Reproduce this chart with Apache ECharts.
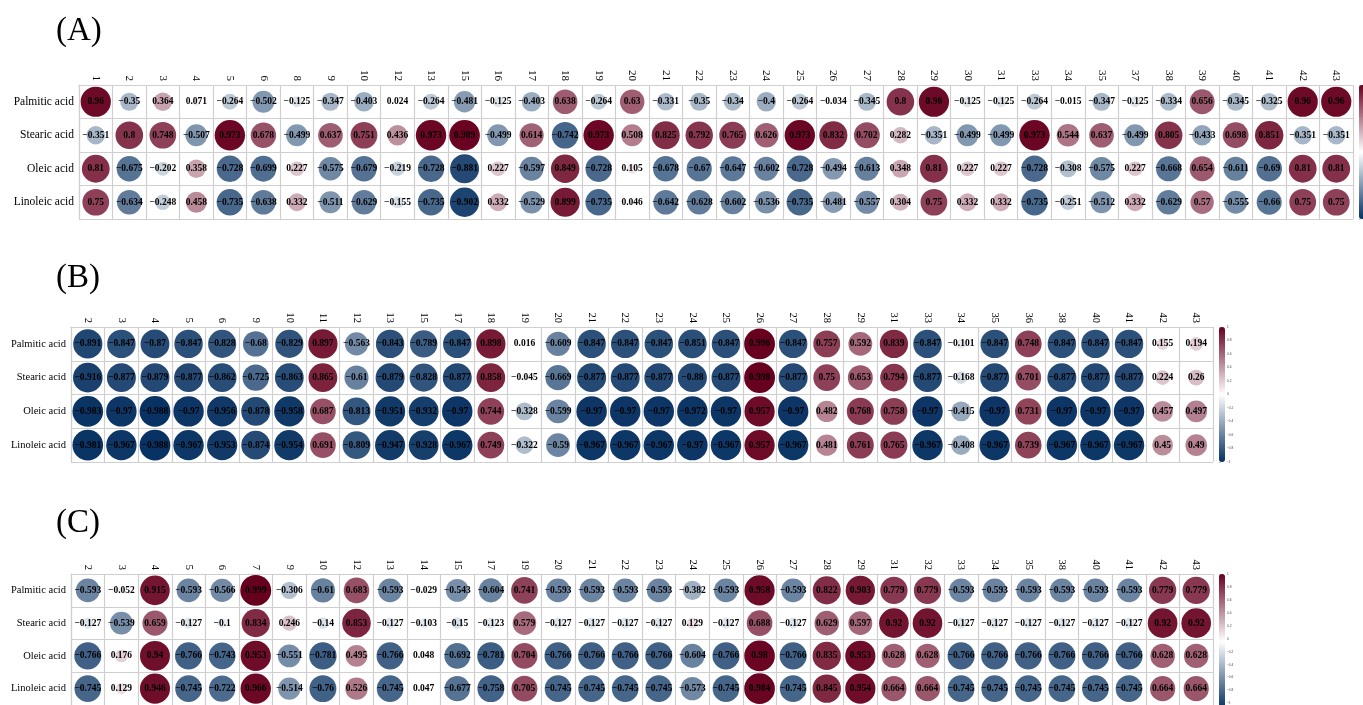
<!DOCTYPE html>
<html>
<head>
<meta charset="utf-8">
<script src="https://cdn.jsdelivr.net/npm/echarts@6/dist/echarts.min.js"></script>
<style>
  html, body { margin: 0; padding: 0; background: #fff; }
  #chart { width: 1363px; height: 705px; }
</style>
</head>
<body>
<div id="chart"></div>
<script>
// Fatty acids (rows) correlated against each numbered sample variable (columns)
const rowNames = ['Palmitic acid', 'Stearic acid', 'Oleic acid', 'Linoleic acid'];

// Panel (A)
const colsA = ['1','2','3','4','5','6','8','9','10','12','13','15','16','17','18','19','20','21','22','23','24','25','26','27','28','29','30','31','33','34','35','37','38','39','40','41','42','43'];
const palmiticA = [0.96,-0.35,0.364,0.071,-0.264,-0.502,-0.125,-0.347,-0.403,0.024,-0.264,-0.481,-0.125,-0.403,0.638,-0.264,0.63,-0.331,-0.35,-0.34,-0.4,-0.264,-0.034,-0.345,0.8,0.96,-0.125,-0.125,-0.264,-0.015,-0.347,-0.125,-0.334,0.656,-0.345,-0.325,0.96,0.96];
const stearicA = [-0.351,0.8,0.748,-0.507,0.973,0.678,-0.499,0.637,0.751,0.436,0.973,0.989,-0.499,0.614,-0.742,0.973,0.508,0.825,0.792,0.765,0.626,0.973,0.832,0.702,0.282,-0.351,-0.499,-0.499,0.973,0.544,0.637,-0.499,0.805,-0.433,0.698,0.851,-0.351,-0.351];
const oleicA = [0.81,-0.675,-0.202,0.358,-0.728,-0.699,0.227,-0.575,-0.679,-0.219,-0.728,-0.881,0.227,-0.597,0.849,-0.728,0.105,-0.678,-0.67,-0.647,-0.602,-0.728,-0.494,-0.613,0.348,0.81,0.227,0.227,-0.728,-0.308,-0.575,0.227,-0.668,0.654,-0.611,-0.69,0.81,0.81];
const linoleicA = [0.75,-0.634,-0.248,0.458,-0.735,-0.638,0.332,-0.511,-0.629,-0.155,-0.735,-0.902,0.332,-0.529,0.899,-0.735,0.046,-0.642,-0.628,-0.602,-0.536,-0.735,-0.481,-0.557,0.304,0.75,0.332,0.332,-0.735,-0.251,-0.512,0.332,-0.629,0.57,-0.555,-0.66,0.75,0.75];

// Panel (B)
const colsB = ['2','3','4','5','6','9','10','11','12','13','15','17','18','19','20','21','22','23','24','25','26','27','28','29','31','33','34','35','36','38','40','41','42','43'];
const palmiticB = [-0.891,-0.847,-0.87,-0.847,-0.828,-0.68,-0.829,0.897,-0.563,-0.843,-0.789,-0.847,0.898,0.016,-0.609,-0.847,-0.847,-0.847,-0.851,-0.847,0.996,-0.847,0.757,0.592,0.839,-0.847,-0.101,-0.847,0.748,-0.847,-0.847,-0.847,0.155,0.194];
const stearicB = [-0.916,-0.877,-0.879,-0.877,-0.862,-0.725,-0.863,0.865,-0.61,-0.879,-0.828,-0.877,0.858,-0.045,-0.669,-0.877,-0.877,-0.877,-0.88,-0.877,0.998,-0.877,0.75,0.653,0.794,-0.877,-0.168,-0.877,0.701,-0.877,-0.877,-0.877,0.224,0.26];
const oleicB = [-0.983,-0.97,-0.988,-0.97,-0.956,-0.878,-0.958,0.687,-0.813,-0.951,-0.932,-0.97,0.744,-0.328,-0.599,-0.97,-0.97,-0.97,-0.972,-0.97,0.957,-0.97,0.482,0.768,0.758,-0.97,-0.415,-0.97,0.731,-0.97,-0.97,-0.97,0.457,0.497];
const linoleicB = [-0.981,-0.967,-0.988,-0.967,-0.953,-0.874,-0.954,0.691,-0.809,-0.947,-0.928,-0.967,0.749,-0.322,-0.59,-0.967,-0.967,-0.967,-0.97,-0.967,0.957,-0.967,0.481,0.761,0.765,-0.967,-0.408,-0.967,0.739,-0.967,-0.967,-0.967,0.45,0.49];

// Panel (C)
const colsC = ['2','3','4','5','6','7','9','10','12','13','14','15','17','19','20','21','22','23','24','25','26','27','28','29','31','32','33','34','35','38','40','41','42','43'];
const palmiticC = [-0.593,-0.052,0.915,-0.593,-0.566,0.999,-0.306,-0.61,0.683,-0.593,-0.029,-0.543,-0.604,0.741,-0.593,-0.593,-0.593,-0.593,-0.382,-0.593,0.958,-0.593,0.822,0.903,0.779,0.779,-0.593,-0.593,-0.593,-0.593,-0.593,-0.593,0.779,0.779];
const stearicC = [-0.127,-0.539,0.659,-0.127,-0.1,0.834,0.246,-0.14,0.853,-0.127,-0.103,-0.15,-0.123,0.579,-0.127,-0.127,-0.127,-0.127,0.129,-0.127,0.688,-0.127,0.629,0.597,0.92,0.92,-0.127,-0.127,-0.127,-0.127,-0.127,-0.127,0.92,0.92];
const oleicC = [-0.766,0.176,0.94,-0.766,-0.743,0.953,-0.551,-0.781,0.495,-0.766,0.048,-0.692,-0.781,0.704,-0.766,-0.766,-0.766,-0.766,-0.604,-0.766,0.98,-0.766,0.835,0.953,0.628,0.628,-0.766,-0.766,-0.766,-0.766,-0.766,-0.766,0.628,0.628];
const linoleicC = [-0.745,0.129,0.946,-0.745,-0.722,0.966,-0.514,-0.76,0.526,-0.745,0.047,-0.677,-0.758,0.705,-0.745,-0.745,-0.745,-0.745,-0.573,-0.745,0.984,-0.745,0.845,0.954,0.664,0.664,-0.745,-0.745,-0.745,-0.745,-0.745,-0.745,0.664,0.664];

// Colour scale: blue (-1) -> white (0) -> dark red (+1)
const scaleColors = ['#053061', '#FFFFFF', '#67001F'];

const SERIF = '"Liberation Serif", "Times New Roman", serif';
const fmt = v => String(v).replace('-', '\u2212');

const panels = [
  { title: '(A)', titleTop: 15, cols: colsA, rows: [palmiticA, stearicA, oleicA, linoleicA],
    left: 79, top: 85, width: 1274, height: 134, barLeft: 1359, rowFont: 11.5, colFont: 11 },
  { title: '(B)', titleTop: 262, cols: colsB, rows: [palmiticB, stearicB, oleicB, linoleicB],
    left: 71, top: 327, width: 1142, height: 135, barLeft: 1219, rowFont: 10.5, colFont: 10.5 },
  { title: '(C)', titleTop: 507, cols: colsC, rows: [palmiticC, stearicC, oleicC, linoleicC],
    left: 71, top: 574, width: 1142, height: 135, barLeft: 1219, rowFont: 10.5, colFont: 10.5 }
];

const gridLine = { color: '#cfcfcf', width: 1.2 };

const grid = [], xAxis = [], yAxis = [], series = [], visualMap = [], title = [];

panels.forEach((p, i) => {
  const cell = p.width / p.cols.length;
  title.push({
    text: p.title, left: 56, top: p.titleTop, padding: 0,
    textStyle: { fontFamily: SERIF, fontSize: 33, fontWeight: 'normal', color: '#000' }
  });
  grid.push({ left: p.left, top: p.top, width: p.width, height: p.height });
  xAxis.push({
    type: 'category', gridIndex: i, position: 'top', data: p.cols,
    axisLine: { show: true, lineStyle: gridLine },
    axisTick: { show: false },
    splitLine: { show: true, lineStyle: gridLine },
    axisLabel: { interval: 0, rotate: 90, margin: 4, fontFamily: SERIF, fontSize: p.colFont, color: '#000' }
  });
  yAxis.push({
    type: 'category', gridIndex: i, inverse: true, data: rowNames,
    axisLine: { show: true, lineStyle: gridLine },
    axisTick: { show: false },
    splitLine: { show: true, lineStyle: gridLine },
    axisLabel: { margin: 5, fontFamily: SERIF, fontSize: p.rowFont, color: '#000' }
  });
  const data = [];
  p.rows.forEach((vals, r) => vals.forEach((v, c) => data.push([c, r, v])));
  series.push({
    type: 'scatter', xAxisIndex: i, yAxisIndex: i, data,
    symbol: 'circle',
    symbolSize: d => 0.92 * Math.sqrt(Math.abs(d[2])) * cell,
    itemStyle: { opacity: 1 },
    label: {
      show: true, position: 'inside', color: '#000', fontFamily: SERIF,
      fontWeight: 'bold', fontSize: 9.5,
      formatter: prm => fmt(prm.value[2])
    },
    emphasis: { disabled: true },
    silent: true
  });
  visualMap.push({
    type: 'continuous', min: -1, max: 1, dimension: 2, seriesIndex: i,
    inRange: { color: scaleColors },
    calculable: false, hoverLink: false, padding: 0,
    itemWidth: 6, itemHeight: p.height,
    left: p.barLeft, top: p.top, text: null
  });
});

// Tick labels beside each colour bar
panels.forEach((p, i) => {
  const gi = panels.length + i;
  grid.push({ left: p.barLeft, top: p.top, width: 6, height: p.height });
  xAxis.push({ type: 'value', gridIndex: gi, show: false });
  yAxis.push({
    type: 'value', gridIndex: gi, position: 'right', min: -1, max: 1, interval: 0.2,
    axisLine: { show: false }, splitLine: { show: false },
    axisTick: { show: true, length: 1.5, lineStyle: { color: '#777', width: 0.5 } },
    axisLabel: { fontSize: 3.2, margin: 2, color: '#444', formatter: v => fmt(Math.round(v * 10) / 10) }
  });
});

const chart = echarts.init(document.getElementById('chart'), null, { renderer: 'canvas' });
chart.setOption({
  animation: false,
  backgroundColor: '#ffffff',
  title, grid, xAxis, yAxis, series, visualMap
});
</script>
</body>
</html>
